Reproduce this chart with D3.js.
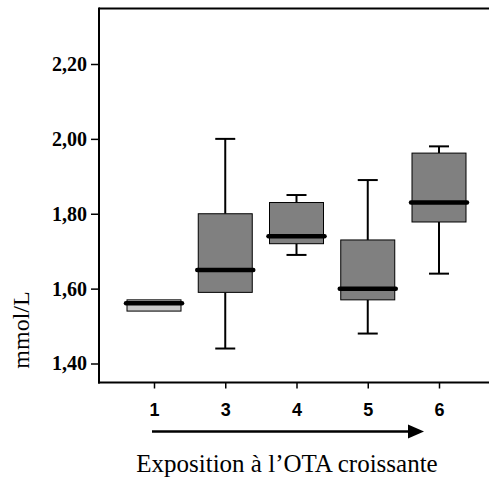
<!DOCTYPE html>
<html><head><meta charset="utf-8">
<script src="https://cdn.jsdelivr.net/npm/d3@7"></script>
<style>body{margin:0;background:#fff}svg{display:block}</style>
</head><body>
<script>
const categories = ["1","3","4","5","6"];
const whiskerLow  = [1.555, 1.44, 1.69, 1.48, 1.64];
const q1          = [1.54, 1.59, 1.72, 1.57, 1.778];
const median      = [1.561, 1.65, 1.74, 1.60, 1.83];
const q3          = [1.57, 1.80, 1.83, 1.73, 1.962];
const whiskerHigh = [1.57, 2.00, 1.85, 1.89, 1.98];
const fills       = ["#c8c8c8","#808080","#808080","#808080","#808080"];
const yTicks = [1.40, 1.60, 1.80, 2.00, 2.20];

(function(){
const W = 489, H = 484;
const svg = d3.select("body").append("svg").attr("width", W).attr("height", H);
const mLeft = 99, mTop = 8.5, mBottom = 382.5;
const y = d3.scaleLinear().domain([1.40, 2.20]).range([363.5, 64]);
const x = d3.scalePoint().domain(categories).range([154, 439]);
const bw = 54, cw = 20;

// frame
svg.append("line").attr("x1", mLeft).attr("x2", W).attr("y1", mTop).attr("y2", mTop).attr("stroke","#000").attr("stroke-width",2);
svg.append("line").attr("x1", mLeft).attr("x2", mLeft).attr("y1", mTop-1).attr("y2", mBottom+1).attr("stroke","#000").attr("stroke-width",2);
svg.append("line").attr("x1", mLeft-1).attr("x2", W).attr("y1", mBottom).attr("y2", mBottom).attr("stroke","#000").attr("stroke-width",2);

// y axis ticks
const ya = svg.append("g").attr("transform", `translate(${mLeft},0)`)
  .call(d3.axisLeft(y).tickValues(yTicks).tickSize(8).tickPadding(4)
    .tickFormat(d => d3.format(".2f")(d).replace(".", ",")));
ya.select(".domain").remove();
ya.selectAll("line").attr("stroke-width",1.5);
ya.selectAll("text").attr("font-family","Liberation Serif").attr("font-weight","bold").attr("font-size",20).attr("fill","#000");

// x axis ticks
const xa = svg.append("g").attr("transform", `translate(0,${mBottom})`)
  .call(d3.axisBottom(x).tickSize(6).tickPadding(15));
xa.select(".domain").remove();
xa.selectAll("line").attr("stroke-width",1.5);
xa.selectAll("text").attr("font-family","Liberation Sans").attr("font-weight","bold").attr("font-size",18).attr("fill","#000");

// boxes
const data = categories.map((c,i)=>({c, lo:whiskerLow[i], q1:q1[i], med:median[i], q3:q3[i], hi:whiskerHigh[i], fill:fills[i]}));
const g = svg.append("g");
data.forEach(d => {
  const cx = x(d.c);
  if (d.hi > d.q3) {
    g.append("line").attr("x1",cx).attr("x2",cx).attr("y1",y(d.hi)).attr("y2",y(d.q3)).attr("stroke","#000").attr("stroke-width",2);
    g.append("line").attr("x1",cx-cw/2).attr("x2",cx+cw/2).attr("y1",y(d.hi)).attr("y2",y(d.hi)).attr("stroke","#000").attr("stroke-width",2);
  }
  if (d.lo < d.q1) {
    g.append("line").attr("x1",cx).attr("x2",cx).attr("y1",y(d.q1)).attr("y2",y(d.lo)).attr("stroke","#000").attr("stroke-width",2);
    g.append("line").attr("x1",cx-cw/2).attr("x2",cx+cw/2).attr("y1",y(d.lo)).attr("y2",y(d.lo)).attr("stroke","#000").attr("stroke-width",2);
  }
  g.append("rect").attr("x",cx-bw/2).attr("y",y(d.q3)).attr("width",bw).attr("height",y(d.q1)-y(d.q3))
    .attr("fill",d.fill).attr("stroke","#000").attr("stroke-width",1);
  g.append("line").attr("x1",cx-bw/2-1).attr("x2",cx+bw/2+1).attr("y1",y(d.med)).attr("y2",y(d.med))
    .attr("stroke","#000").attr("stroke-width",4.5).attr("stroke-linecap","round");
});

// y label
svg.append("text").attr("transform","translate(29,330) rotate(-90)").attr("text-anchor","middle")
  .attr("font-family","Liberation Serif").attr("font-size",24).text("mmol/L");

// arrow
svg.append("line").attr("x1",152).attr("x2",412).attr("y1",431.5).attr("y2",431.5).attr("stroke","#000").attr("stroke-width",2.5);
svg.append("path").attr("d","M408,424.5 L424,431.5 L408,438.5 Z").attr("fill","#000");

// x title
svg.append("text").attr("x",287).attr("y",472).attr("text-anchor","middle")
  .attr("font-family","Liberation Serif").attr("font-size",25).text("Exposition à l’OTA croissante");
})();
</script>
</body></html>
